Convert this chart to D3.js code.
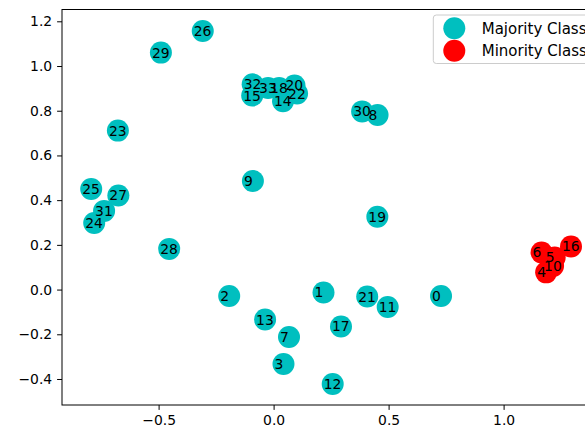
<!DOCTYPE html>
<html>
<head>
<meta charset="utf-8">
<script src="https://cdn.jsdelivr.net/npm/d3@7"></script>
<style>
  html, body { margin: 0; padding: 0; background: #fff; }
  svg { display: block; }
  text { font-family: "DejaVu Sans", sans-serif; }
</style>
</head>
<body>
<svg id="chart" width="585" height="435"></svg>
<script>
// Point coordinates, indexed 0..33
const xs = [0.728, 0.217, -0.193, 0.043, 1.185, 1.222, 1.165, 0.067, 0.452, -0.090,
            1.215, 0.496, 0.257, -0.037, 0.041, -0.093, 1.293, 0.293, 0.024, 0.451,
            0.091, 0.407, 0.102, -0.677, -0.780, -0.793, -0.308, -0.675, -0.454, -0.490,
            0.385, -0.737, -0.091, -0.024];
const ys = [-0.029, -0.013, -0.029, -0.333, 0.077, 0.144, 0.166, -0.212, 0.781, 0.486,
            0.106, -0.078, -0.422, -0.134, 0.842, 0.868, 0.193, -0.165, 0.902, 0.326,
            0.913, -0.031, 0.877, 0.711, 0.298, 0.450, 1.157, 0.421, 0.182, 1.060,
            0.797, 0.352, 0.918, 0.902];
// Indices belonging to the minority class
const minorityIdx = [4, 5, 6, 10, 16];
const classNames = ["Majority Class", "Minority Class"];
const classColors = ["#00bfbf", "#ff0000"];
const xTicks = [-0.5, 0.0, 0.5, 1.0];
const yTicks = [-0.4, -0.2, 0.0, 0.2, 0.4, 0.6, 0.8, 1.0, 1.2];

const points = xs.map((x, i) => ({
  i, x, y: ys[i], cls: minorityIdx.includes(i) ? 1 : 0
}));

const svg = d3.select("#chart");
const plotLeft = 62, plotRight = 595.6, plotTop = 9.5, plotBottom = 405;

const x = d3.scaleLinear().domain([-0.92, 1.40]).range([plotLeft, plotRight]);
const y = d3.scaleLinear().domain([-0.5163, 1.2528]).range([plotBottom, plotTop]);

const fontSize = 13.9;
const legendFontSize = 15;

// Axes
const xAxis = d3.axisBottom(x).tickValues(xTicks).tickFormat(d3.format(".1f"))
  .tickSize(4.9).tickPadding(4.9);
const yAxis = d3.axisLeft(y).tickValues(yTicks).tickFormat(d3.format(".1f"))
  .tickSize(4.9).tickPadding(4.9);

const gx = svg.append("g").attr("transform", `translate(0,${plotBottom})`).call(xAxis);
const gy = svg.append("g").attr("transform", `translate(${plotLeft},0)`).call(yAxis);
[gx, gy].forEach(g => {
  g.select(".domain").remove();
  g.selectAll("line").attr("stroke", "#000").attr("stroke-width", 1);
  g.selectAll("text").attr("fill", "#000").style("font-size", fontSize + "px")
    .style("font-family", "DejaVu Sans");
});

// Frame
svg.append("rect")
  .attr("x", plotLeft).attr("y", plotTop)
  .attr("width", plotRight - plotLeft).attr("height", plotBottom - plotTop)
  .attr("fill", "none").attr("stroke", "#000").attr("stroke-width", 1);

const plot = svg.append("g");
const r = 11;

// Markers: majority class first, then minority class
[0, 1].forEach(c => {
  plot.selectAll(null)
    .data(points.filter(p => p.cls === c))
    .enter().append("circle")
    .attr("cx", d => x(d.x)).attr("cy", d => y(d.y))
    .attr("r", r).attr("fill", classColors[c]);
});

// Index labels on top of all markers
plot.selectAll(null)
  .data(points)
  .enter().append("text")
  .attr("x", d => x(d.x) - 9)
  .attr("y", d => y(d.y) + 5)
  .attr("fill", "#000")
  .style("font-size", fontSize + "px")
  .text(d => d.i);

// Legend
const lg = svg.append("g");
lg.append("rect")
  .attr("x", 433.3).attr("y", 15).attr("width", 180).attr("height", 48.5)
  .attr("rx", 3).attr("fill", "#fff").attr("fill-opacity", 0.8)
  .attr("stroke", "#cccccc").attr("stroke-width", 1);
classNames.forEach((name, k) => {
  const cy = 28.3 + k * 22.4;
  lg.append("circle").attr("cx", 454.3).attr("cy", cy).attr("r", r)
    .attr("fill", classColors[k]);
  lg.append("text").attr("x", 481.7).attr("y", cy + 5.3)
    .attr("fill", "#000").style("font-size", legendFontSize + "px").text(name);
});
</script>
</body>
</html>
